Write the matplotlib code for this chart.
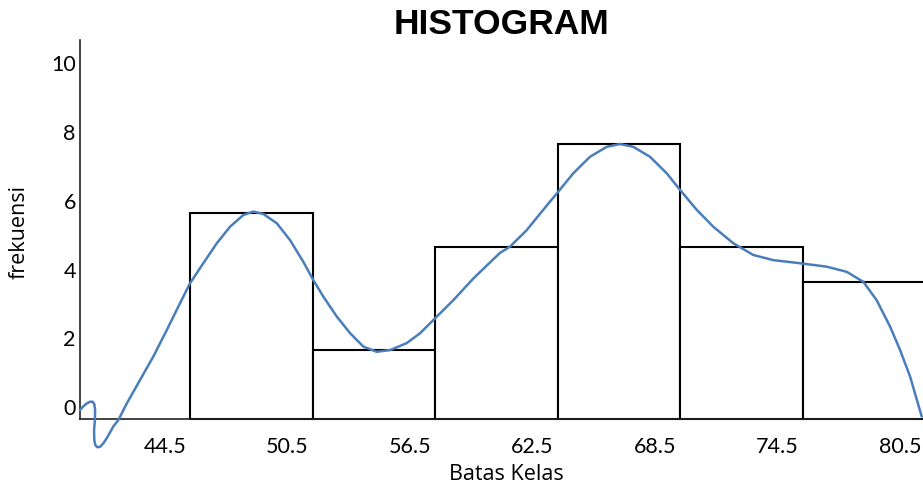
import matplotlib
matplotlib.use("Agg")
import matplotlib.pyplot as plt
from matplotlib.transforms import ScaledTranslation

# Data
class_edges = [44.5, 50.5, 56.5, 62.5, 68.5, 74.5, 80.5]
frequencies = [6, 2, 5, 8, 5, 4]
x_tick_labels = ["44.5", "50.5", "56.5", "62.5", "68.5", "74.5", "80.5"]
y_ticks = [0, 2, 4, 6, 8, 10]

curve_x = [39.11, 39.28, 39.44, 39.60, 39.73, 39.81, 39.85, 39.84, 39.80, 39.81,
           39.86, 39.96, 40.09, 40.25, 40.42, 40.74, 40.99, 41.40, 42.05, 42.70,
           43.36, 44.01, 44.50, 45.15, 45.81, 46.46, 47.11, 47.60, 48.09, 48.75,
           49.40, 50.05, 50.54, 51.03, 51.69, 52.34, 52.99, 53.64, 54.30, 55.11,
           55.77, 56.50, 57.40, 58.38, 59.68, 60.17, 60.99, 61.80, 62.54, 63.27,
           64.09, 64.91, 65.56, 66.21, 67.03, 67.85, 68.50, 69.32, 70.13, 71.11,
           72.09, 73.07, 74.38, 75.69, 76.67, 77.48, 78.13, 78.79, 79.28, 79.77,
           80.34]
curve_y = [0.27, 0.38, 0.46, 0.51, 0.51, 0.44, 0.27, -0.02, -0.31, -0.60,
           -0.75, -0.81, -0.80, -0.70, -0.55, -0.21, -0.02, 0.46, 1.14, 1.82,
           2.59, 3.37, 3.95, 4.53, 5.11, 5.59, 5.93, 6.03, 5.96, 5.69,
           5.20, 4.57, 4.04, 3.56, 2.98, 2.50, 2.11, 1.96, 2.01, 2.21,
           2.50, 2.93, 3.46, 4.09, 4.83, 5.01, 5.49, 6.08, 6.61, 7.14,
           7.62, 7.91, 7.99, 7.91, 7.62, 7.14, 6.66, 6.08, 5.59, 5.11,
           4.77, 4.62, 4.53, 4.43, 4.28, 3.99, 3.46, 2.69, 2.01, 1.24,
           0.08]

W, H = 923, 484
fig = plt.figure(figsize=(W / 100, H / 100), dpi=100)
ax = fig.add_axes([80 / W, (484 - 419.3) / H, (925 - 80) / W, (419.3 - 40) / H])

lefts = class_edges[:-1]
widths = [class_edges[i + 1] - class_edges[i] for i in range(len(lefts))]
ax.bar(lefts, frequencies, width=widths, align="edge", color="white",
       edgecolor="black", linewidth=1.5, zorder=2, clip_on=False)

ax.plot(curve_x, curve_y, color="#4a7ebb", linewidth=1.8, zorder=3,
        clip_on=False, solid_capstyle="round", solid_joinstyle="round")

ax.set_xlim(39.11, 80.5)
ax.set_ylim(0, (419.3 - 40) / 34.45)

tick_font = dict(family="Lato", size=15.5)
ax.set_xticks(class_edges)
ax.set_xticklabels(x_tick_labels, **tick_font)
ax.set_yticks(y_ticks)
ax.set_yticklabels([str(v) for v in y_ticks], **tick_font)
ax.tick_params(axis="x", length=0, pad=13)
ax.tick_params(axis="y", length=0, pad=3)
for lab in ax.get_xticklabels():
    lab.set_horizontalalignment("right")
    lab.set_transform(lab.get_transform() + ScaledTranslation(-4 / 100, 0, fig.dpi_scale_trans))
for lab in ax.get_yticklabels():
    lab.set_verticalalignment("bottom")

for s in ["top", "right"]:
    ax.spines[s].set_visible(False)
for s in ["left", "bottom"]:
    ax.spines[s].set_color("#222222")
    ax.spines[s].set_linewidth(1.2)

fig.text(502 / W, 1 - 24 / H, "HISTOGRAM", ha="center", va="center",
         family="Liberation Sans", weight="bold", size=25.5)
fig.text(506 / W, 1 - 474 / H, "Batas Kelas", ha="center", va="center",
         family="Open Sans", size=15.5)
fig.text(19 / W, 1 - 232 / H, "frekuensi", ha="center", va="center",
         rotation=90, family="Open Sans", size=15.5)

fig.savefig("out.png", dpi=100)
